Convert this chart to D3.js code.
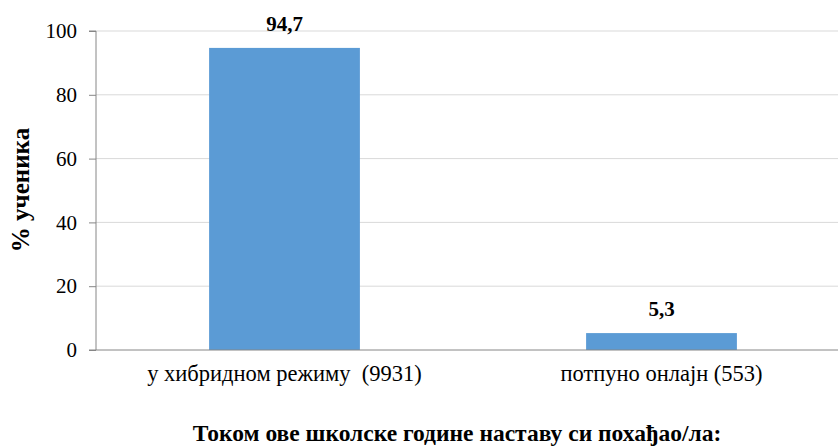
<!DOCTYPE html>
<html><head><meta charset="utf-8">
<script src="https://cdn.jsdelivr.net/npm/d3@7"></script>
</head><body style="margin:0">
<svg id="c" width="838" height="446" style="font-family:'Liberation Serif'"></svg>
<script>
const categories = ["у хибридном режиму  (9931)", "потпуно онлајн (553)"];
const values = [94.7, 5.3];
const valueLabels = ["94,7", "5,3"];
const yTicks = [0, 20, 40, 60, 80, 100];
const yTitle = "% ученика";
const xTitle = "Током ове школске године наставу си похађао/ла:";

const svg = d3.select("#c");
const mLeft = 96, mRight = 838, mTop = 31, mBottom = 350;
const x = d3.scaleBand().domain(categories).range([mLeft, mLeft + 2*377]).paddingInner(0.6).paddingOuter(0.3);
const y = d3.scaleLinear().domain([0, 100]).range([mBottom, mTop]);

svg.append("g").selectAll("line").data(yTicks.filter(d => d > 0)).join("line")
  .attr("x1", mLeft).attr("x2", mRight).attr("y1", d => y(d)).attr("y2", d => y(d))
  .attr("stroke", "#d9d9d9").attr("stroke-width", 1);

svg.append("g").selectAll("rect").data(values).join("rect")
  .attr("x", (d, i) => x(categories[i])).attr("width", x.bandwidth())
  .attr("y", d => y(d)).attr("height", d => y(0) - y(d))
  .attr("fill", "#5b9bd5");

const yAxis = d3.axisLeft(y).tickValues(yTicks).tickSize(7).tickPadding(12);
const gy = svg.append("g").attr("transform", `translate(${mLeft},0)`).call(yAxis)
  .attr("font-family", null).attr("font-size", 21);
gy.select(".domain").attr("stroke", "#868686").attr("d", `M-7,${mTop}H0V${mBottom}`);
gy.selectAll(".tick line").attr("stroke", "#868686");
gy.selectAll(".tick text").attr("fill", "#000");

svg.append("line").attr("x1", mLeft - 7).attr("x2", mRight).attr("y1", mBottom).attr("y2", mBottom)
  .attr("stroke", "#868686").attr("stroke-width", 1);

svg.append("g").selectAll("text").data(categories).join("text")
  .attr("x", d => x(d) + x.bandwidth()/2).attr("y", 381)
  .attr("text-anchor", "middle").attr("font-size", 22.5)
  .style("white-space", "pre").text(d => d);

svg.append("g").selectAll("text").data(values).join("text")
  .attr("x", (d, i) => x(categories[i]) + x.bandwidth()/2).attr("y", d => y(d) - 17)
  .attr("text-anchor", "middle").attr("font-size", 21).attr("font-weight", "bold")
  .text((d, i) => valueLabels[i]);

svg.append("text").attr("transform", "translate(29,190) rotate(-90)")
  .attr("text-anchor", "middle").attr("font-size", 25).attr("font-weight", "bold").text(yTitle);

svg.append("text").attr("x", 457).attr("y", 441).attr("text-anchor", "middle")
  .attr("font-size", 23.5).attr("font-weight", "bold").text(xTitle);
</script>
</body></html>
